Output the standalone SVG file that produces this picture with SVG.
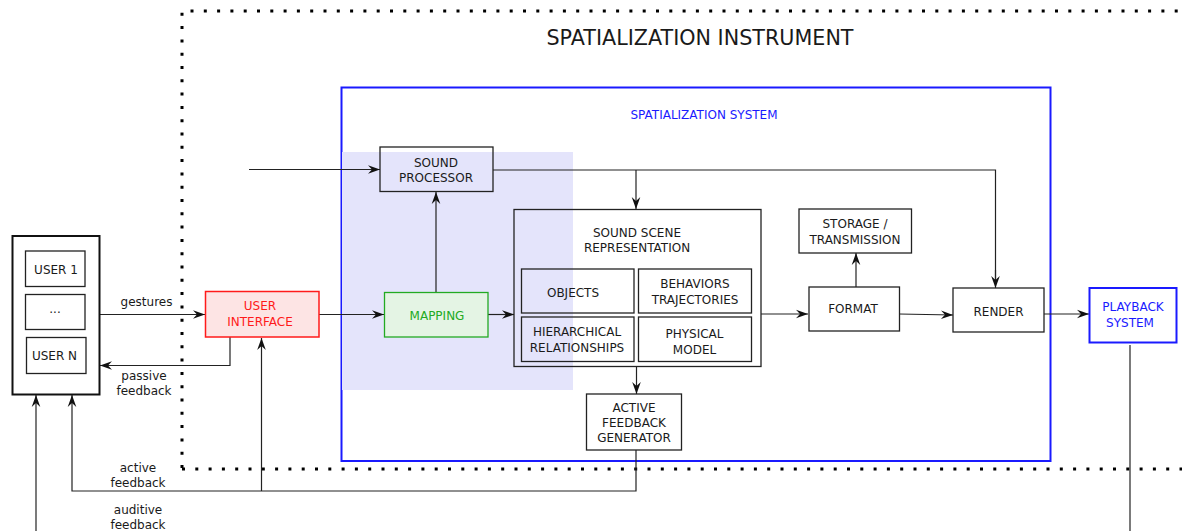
<svg xmlns="http://www.w3.org/2000/svg" width="1182" height="531" viewBox="0 0 1182 531">
<defs>
<marker id="ah" viewBox="-13 -5 14 10" refX="0" refY="0" markerWidth="14" markerHeight="10" markerUnits="userSpaceOnUse" orient="auto">
<path d="M0,0 L-12,-4.3 L-8,0 L-12,4.3 Z" fill="#111"/>
</marker>
<style>
text{font-family:"DejaVu Sans","Liberation Sans",sans-serif;font-size:12px;fill:#1a1a1a;text-anchor:middle}
.box{fill:none;stroke:#222;stroke-width:1.3}
.c{fill:none;stroke:#222;stroke-width:1.2}
.ca{fill:none;stroke:#222;stroke-width:1.2;marker-end:url(#ah)}
.dot{fill:none;stroke:#000;stroke-width:3;stroke-dasharray:3 10.3}
.blue{fill:#1a1aff}
</style>
</defs>

<!-- instrument boundary -->
<g id="instrument">
<path class="dot" d="M182,468 L182,11 L1182,11"/>
<path class="dot" d="M182,469 L1182,469"/>
<text x="700" y="45" style="font-size:20.7px">SPATIALIZATION INSTRUMENT</text>
</g>

<!-- spatialization system -->
<g id="system">
<rect x="341.5" y="87.5" width="709" height="373.5" fill="none" stroke="#1a1aff" stroke-width="2"/>
<text class="blue" x="704" y="119">SPATIALIZATION SYSTEM</text>
</g>

<rect id="shade" x="342" y="152" width="231" height="238" fill="#e4e4fb"/>

<!-- connectors -->
<g id="connectors">
<path class="ca" d="M249,169.5 L380,169.5"/>
<path class="c" d="M493,170 L995.5,170 L995.5,280"/>
<path class="ca" d="M995.5,270 L995.5,288"/>
<path class="ca" d="M636,170 L636,209"/>
<path class="ca" d="M436,292 L436,192"/>
<path class="ca" d="M99,314.5 L205,314.5"/>
<path class="ca" d="M319,314.5 L384,314.5"/>
<path class="ca" d="M488,314.5 L514,314.5"/>
<path class="ca" d="M761,314 L808,314"/>
<path class="ca" d="M856,287 L856,253"/>
<path class="ca" d="M899,314 L953,315"/>
<path class="ca" d="M1044,314 L1089,314"/>
<path class="ca" d="M636.5,366.5 L636.5,394"/>
<path class="ca" d="M230,337 L230,365.5 L100,365.5"/>
<path class="ca" d="M636,450 L636,491 L72,491 L72,395"/>
<path class="ca" d="M261.5,491 L261.5,338"/>
<path class="ca" d="M36,531 L36,395"/>
<path class="c" d="M1130,345 L1130,531" stroke="#555"/>
</g>

<!-- connector labels -->
<g id="labels">
<text x="146.5" y="306">gestures</text>
<text x="144" y="380">passive</text>
<text x="144" y="395">feedback</text>
<text x="138" y="471.5">active</text>
<text x="138" y="486.5">feedback</text>
<text x="138" y="514">auditive</text>
<text x="138" y="528.5">feedback</text>
</g>

<g id="users">
<rect x="12.5" y="236" width="87" height="158.5" fill="none" stroke="#111" stroke-width="2"/>
</g>
<g id="user1">
<rect class="box" x="25.5" y="251" width="59.5" height="35.5"/>
<text x="56" y="274">USER 1</text>
</g>
<g id="userdots">
<rect class="box" x="25.5" y="294.5" width="59.5" height="35"/>
<text x="55" y="313">...</text>
</g>
<g id="userN">
<rect class="box" x="26.5" y="337.5" width="59.5" height="36"/>
<text x="54.5" y="360">USER N</text>
</g>

<g id="user-interface">
<rect x="205.5" y="291.5" width="113.5" height="45.5" fill="#fde4e4" stroke="#ff1a1a" stroke-width="1.5"/>
<text x="260" y="310" style="fill:#ff1a1a">USER</text>
<text x="260" y="326" style="fill:#ff1a1a">INTERFACE</text>
</g>

<g id="sound-processor">
<rect class="box" x="380" y="147" width="113" height="44.5"/>
<text x="436" y="166.5">SOUND</text>
<text x="436" y="181.5">PROCESSOR</text>
</g>

<g id="mapping">
<rect x="384.5" y="292.5" width="103.5" height="44.5" fill="#e4f4e4" stroke="#22aa22" stroke-width="1.3"/>
<text x="437" y="319.5" style="fill:#22aa22">MAPPING</text>
</g>

<g id="sound-scene">
<rect class="box" x="514" y="209.5" width="247" height="157"/>
<text x="637" y="236.5">SOUND SCENE</text>
<text x="637" y="252">REPRESENTATION</text>
</g>
<g id="objects">
<rect class="box" x="521.5" y="269" width="112.5" height="44"/>
<text x="573" y="296.5">OBJECTS</text>
</g>
<g id="behaviors">
<rect class="box" x="638.5" y="269" width="113" height="44"/>
<text x="695" y="288">BEHAVIORS</text>
<text x="695" y="303.5">TRAJECTORIES</text>
</g>
<g id="hierarchical">
<rect class="box" x="521.5" y="317" width="112.5" height="44.5"/>
<text x="577" y="335.5">HIERARCHICAL</text>
<text x="577" y="351.5">RELATIONSHIPS</text>
</g>
<g id="physical">
<rect class="box" x="638.5" y="317" width="113" height="44.5"/>
<text x="694.5" y="337.5">PHYSICAL</text>
<text x="694.5" y="353.5">MODEL</text>
</g>

<g id="active-feedback-generator">
<rect class="box" x="586.5" y="394" width="95" height="56"/>
<text x="634" y="411.5">ACTIVE</text>
<text x="634" y="426.5">FEEDBACK</text>
<text x="634" y="442">GENERATOR</text>
</g>

<g id="storage">
<rect class="box" x="799" y="209" width="112.5" height="44"/>
<text x="855" y="228">STORAGE /</text>
<text x="855" y="243.5">TRANSMISSION</text>
</g>

<g id="format">
<rect class="box" x="809" y="287" width="90.5" height="44"/>
<text x="853" y="313">FORMAT</text>
</g>

<g id="render">
<rect class="box" x="953" y="288" width="91" height="44"/>
<text x="998.5" y="315.5">RENDER</text>
</g>

<g id="playback">
<rect x="1089.5" y="288" width="87" height="54.5" fill="none" stroke="#1a1aff" stroke-width="2"/>
<text class="blue" x="1133" y="310.5">PLAYBACK</text>
<text class="blue" x="1130" y="326.5">SYSTEM</text>
</g>
</svg>
